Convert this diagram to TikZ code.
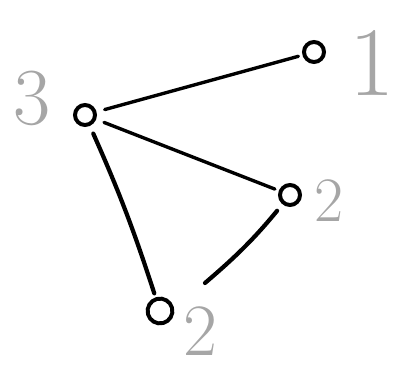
\documentclass[tikz,border=0pt]{standalone}
\usetikzlibrary{positioning}

\begin{document}
\begin{tikzpicture}[x=0.025cm, y=-0.025cm, v/.style={draw, circle, line width=2.8pt, minimum size=0.5cm, inner sep=0pt}, e/.style={line width=3pt, line cap=round, shorten <=6pt, shorten >=3pt}, lab/.style={gray!70, font=\fontsize{50}{50}\selectfont}]
	\useasboundingbox (0,0) rectangle (395,372);
	\node[v] (n3) at (85,115) {}; \node[v] (n1) at (314,52) {};
	\node[v] (n2) at (290,195) {}; \node[v, minimum width=0.62cm, minimum height=0.5cm, rotate=15] (n4) at (160,311) {};
	\coordinate (free) at (205,283);
	\draw[e, line width=2.4pt] (n3) -- (n1);
	\draw[e, line width=2.4pt] (n3) -- (n2);
	\draw[e] (n3) to[bend left=3] (n4);
	\draw[e, shorten >=0pt] (n2) to[bend left=5] (free);
	\node[lab, left=12pt of n3, yshift=12pt, scale=1.15] {3};
	\node[lab, right=12pt of n1, yshift=-8pt, scale=1.4] {1};
	\node[lab, right=6pt of n2, yshift=-4pt, scale=0.9] {2};
	\node[lab, below right=-12pt and 4pt of n4, scale=1.05] {2};
\end{tikzpicture}
\end{document}
